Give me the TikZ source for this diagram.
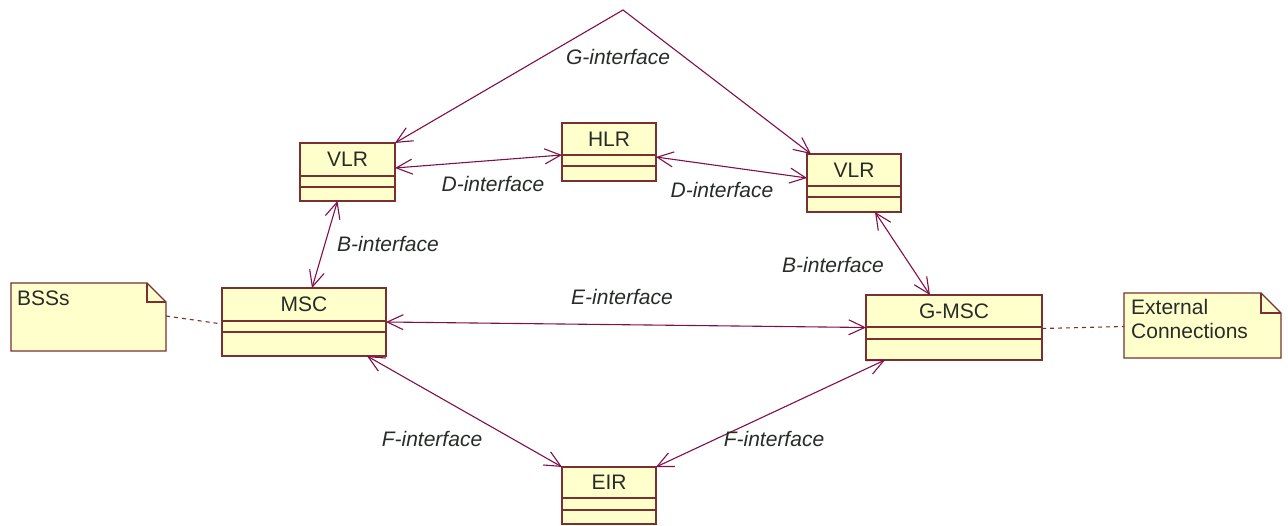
\documentclass[tikz,border=0pt]{standalone}
\usepackage{fontspec}
\setmainfont{Liberation Sans}
\usetikzlibrary{arrows.meta}

\definecolor{classfill}{RGB}{255,255,204}
\definecolor{classedge}{RGB}{122,48,48}
\definecolor{assoc}{RGB}{128,16,72}
\definecolor{inktext}{RGB}{40,44,40}

\tikzset{
  classbox/.style={draw=classedge, fill=classfill, line width=1.3pt, anchor=north west,
    inner sep=0pt, outer sep=0pt},
  splitline/.style={draw=classedge, line width=1.3pt},
  classname/.style={font=\fontsize{21}{24}\selectfont, text=inktext, inner sep=0pt},
  notearea/.style={draw=none, anchor=north west, inner sep=0pt, outer sep=0pt},
  noteline/.style={draw=classedge, fill=classfill, line width=1.3pt, line join=miter},
  assocline/.style={draw=assoc, line width=1.1pt,
    {Straight Barb[length=16pt,width=15pt]}-{Straight Barb[length=16pt,width=15pt]}},
  iflabel/.style={font=\fontsize{21}{24}\selectfont\itshape, text=inktext, inner sep=0pt},
  notelink/.style={draw=classedge, line width=1.1pt, dash pattern=on 4pt off 4pt}
}

% class box: name, x, y, width, height, first split, second split, title
\newcommand\umlclass[8]{%
  \node[classbox, minimum width=#4pt, minimum height=#5pt] (#1) at (#2,#3) {};
  \draw[splitline] ([yshift=-#6pt]#1.north west) -- ([yshift=-#6pt]#1.north east);
  \draw[splitline] ([yshift=-#7pt]#1.north west) -- ([yshift=-#7pt]#1.north east);
  \node[classname] (#1-title) at ([yshift=-#6pt/2]#1.north) {#8};
}

% note with folded corner: name, x, y, width, height, fold
\newcommand\umlnote[6]{%
  \node[notearea, minimum width=#4pt, minimum height=#5pt] (#1) at (#2,#3) {};
  \draw[noteline] (#1.north west) -- ([xshift=-#6pt]#1.north east)
    -- ([yshift=-#6pt]#1.north east) -- (#1.south east) -- (#1.south west) -- cycle;
  \draw[noteline, fill=none] ([xshift=-#6pt]#1.north east)
    -- ([xshift=-#6pt,yshift=-#6pt]#1.north east) -- ([yshift=-#6pt]#1.north east);
}

\begin{document}
\begin{tikzpicture}[x=1pt,y=-1pt]
  \path[fill=white] (0,0) rectangle (1288,526);
  \useasboundingbox (0,0) rectangle (1288,526);

  % network elements
  \umlclass{vlrA}{300}{143}{95}{58}{33}{44}{VLR}
  \umlclass{hlr}{562}{123}{94}{58}{32}{43}{HLR}
  \umlclass{vlrB}{807}{154}{94}{58}{32}{43}{VLR}
  \umlclass{msc}{222}{288}{164}{68}{33}{44}{MSC}
  \umlclass{gmsc}{866}{295}{176}{65}{32}{44}{G-MSC}
  \umlclass{eir}{562}{467}{94}{57}{31}{43}{EIR}

  % notes
  \umlnote{bss}{11}{283}{155}{68}{19}
  \node[classname, anchor=north west] (bss-text) at ([xshift=6pt,yshift=-8pt]bss.north west) {BSSs};
  \umlnote{ext}{1124}{293}{157}{65}{20}
  \node[classname, anchor=north west, align=left] (ext-text)
    at ([xshift=7pt,yshift=-6pt]ext.north west) {External\\Connections};

  % note links
  \draw[notelink] ([yshift=1pt]bss.east) -- ([yshift=-2pt]msc.west);
  \draw[notelink] ([yshift=-1pt]gmsc.east) -- ([yshift=-1pt]ext.west);

  % interfaces
  \coordinate (apex) at (623,10);
  \draw[assocline] (vlrA.north east) -- (apex) -- ([xshift=4pt]vlrB.north west);
  \draw[assocline] ([yshift=4pt]vlrA.east) -- ([yshift=-3pt]hlr.west);
  \draw[assocline] ([yshift=-5pt]hlr.east) -- ([yshift=5pt]vlrB.west);
  \draw[assocline] ([xshift=-10pt]vlrA.south) -- ([xshift=8pt]msc.north);
  \draw[assocline] ([xshift=21pt]vlrB.south) -- ([xshift=-24pt]gmsc.north);
  \draw[assocline] (msc.east) -- (gmsc.west);
  \draw[assocline] ([xshift=63pt]msc.south) -- (eir.north west);
  \draw[assocline] ([xshift=-69pt]gmsc.south) -- (eir.north east);

  % interface labels
  \node[iflabel] (lg)  at (618,57)  {G-interface};
  \node[iflabel] (ld1) at (493,184) {D-interface};
  \node[iflabel] (ld2) at (722,190) {D-interface};
  \node[iflabel] (lb1) at (388,244) {B-interface};
  \node[iflabel] (lb2) at (833,265) {B-interface};
  \node[iflabel] (le)  at (622,297) {E-interface};
  \node[iflabel] (lf1) at (432,439) {F-interface};
  \node[iflabel] (lf2) at (774,439) {F-interface};
\end{tikzpicture}
\end{document}
